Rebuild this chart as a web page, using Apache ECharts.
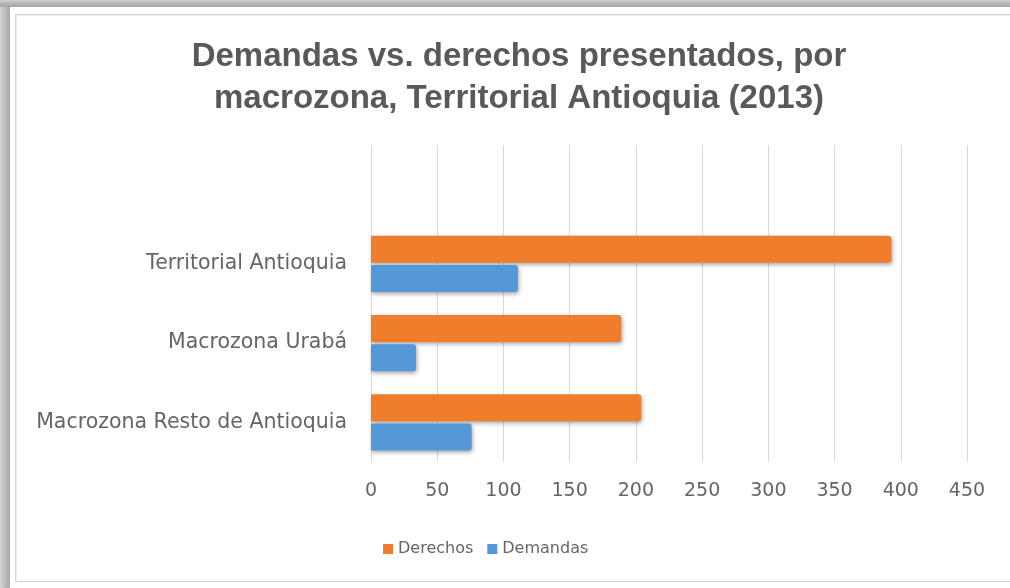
<!DOCTYPE html>
<html>
<head>
<meta charset="utf-8">
<script src="https://cdn.jsdelivr.net/npm/echarts@6/dist/echarts.min.js"></script>
<style>
  html, body { margin: 0; padding: 0; background: #fff; }
  #frame { position: relative; width: 1010px; height: 588px; overflow: hidden; background: #fff; }
  #shadeLeft { position: absolute; left: 0; top: 0; width: 10px; height: 588px;
    background: linear-gradient(to right, #d6d6d6, #bcbcbc 50%, #a9a9a9); }
  #shadeTop { position: absolute; left: 0; top: 0; width: 1010px; height: 7px;
    background: linear-gradient(to bottom, #cfcfcf, #b5b5b5 50%, #a6a6a6); }
  #inner { position: absolute; left: 15px; top: 14px; width: 1010px; height: 568px;
    border: 1px solid #d4d4d4; box-shadow: inset 1px 1px 0 #eeeeee; box-sizing: border-box; }
  #chart { position: absolute; left: 0; top: 0; width: 1010px; height: 588px; }
</style>
</head>
<body>
<div id="frame">
  <div id="shadeLeft"></div>
  <div id="shadeTop"></div>
  <div id="inner"></div>
  <div id="chart"></div>
</div>
<script>
// categories bottom to top, the empty one is the blank band at the top of the plot
const categories = ['Macrozona Resto de Antioquia', 'Macrozona Urabá', 'Territorial Antioquia', ''];
const derechos = [204, 189, 393, null];
const demandas = [76, 34, 111, null];
const xTicks = [0, 50, 100, 150, 200, 250, 300, 350, 400, 450];

const chart = echarts.init(document.getElementById('chart'));

const barShadow = {
    shadowBlur: 4,
    shadowOffsetX: 1,
    shadowOffsetY: 2,
    shadowColor: 'rgba(0,0,0,0.35)'
};
const labelFont = 'DejaVu Sans';
const labelColor = '#656565';

chart.setOption({
    animation: false,
    title: {
        text: 'Demandas vs. derechos presentados, por\nmacrozona, Territorial Antioquia (2013)',
        left: 514,
        textAlign: 'center',
        top: 31,
        textStyle: {
            fontFamily: 'Liberation Sans',
            fontWeight: 'bold',
            fontSize: 33,
            lineHeight: 42,
            color: '#595959'
        }
    },
    legend: {
        data: ['Derechos', 'Demandas'],
        left: 378,
        top: 536,
        itemWidth: 10,
        itemHeight: 10,
        itemGap: 14,
        icon: 'rect',
        textStyle: { fontFamily: labelFont, fontSize: 16, color: labelColor, padding: [0, 0, 0, 0] }
    },
    grid: { left: 371, right: 43, top: 145, bottom: 126 },
    xAxis: {
        type: 'value',
        min: xTicks[0],
        max: xTicks[xTicks.length - 1],
        interval: 50,
        axisLine: { show: false },
        axisTick: { show: false },
        splitLine: { lineStyle: { color: '#d9d9d9' } },
        axisLabel: { fontFamily: labelFont, fontSize: 19, color: labelColor, margin: 20 }
    },
    yAxis: {
        type: 'category',
        data: categories,
        axisLine: { show: false },
        axisTick: { show: false },
        axisLabel: { fontFamily: labelFont, fontSize: 20.5, color: labelColor, margin: 24 }
    },
    series: [
        {
            name: 'Derechos',
            type: 'bar',
            data: derechos,
            barWidth: 27,
            barGap: '8%',
            itemStyle: Object.assign({ color: '#ef7d2c', borderRadius: [0, 3, 3, 0] }, barShadow)
        },
        {
            name: 'Demandas',
            type: 'bar',
            data: demandas,
            barWidth: 27,
            barGap: '8%',
            itemStyle: Object.assign({ color: '#5498d8', borderRadius: [0, 3, 3, 0] }, barShadow)
        }
    ]
});
</script>
</body>
</html>
